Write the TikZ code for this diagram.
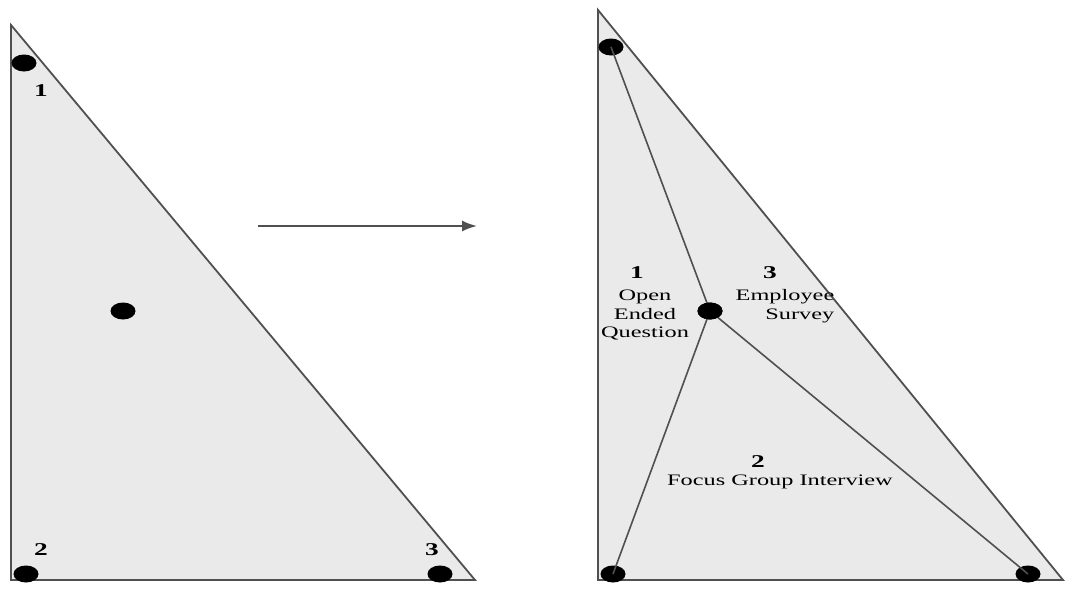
\documentclass[tikz,border=0pt]{standalone}
\usepackage{fontspec}
\setmainfont{Liberation Serif}[FakeStretch=1.52]
\usepackage{tikz}
\usetikzlibrary{shapes.geometric,arrows.meta,positioning,calc}
\definecolor{cFill}{HTML}{EAEAEA}
\definecolor{cEdge}{HTML}{505050}
\tikzset{
  x=1pt, y=-1pt,
  tri/.style  ={draw=cEdge, fill=cFill, line width=1.8pt, line join=miter},
  dot/.style  ={ellipse, fill=black, minimum width=25pt, minimum height=17pt, inner sep=0pt},
  num/.style  ={font=\fontsize{18}{18}\selectfont\bfseries, inner sep=0pt},
  lbl/.style  ={font=\fontsize{16}{18.5}\selectfont, inner sep=0pt},
  spoke/.style={draw=cEdge, line width=1.6pt},
  fl/.style   ={-{Latex[length=15pt,width=11pt]}, draw=cEdge, line width=1.8pt},
}
\begin{document}
\begin{tikzpicture}
  \useasboundingbox (0,0) rectangle (1066,592);
  % left triangle
  \coordinate (lt) at (11,25);
  \coordinate (lb) at (11,580);
  \coordinate (lr) at (475,580);
  \draw[tri] (lt) -- (lb) -- (lr) -- cycle;
  \node[dot] (la) at (24,63) {};
  \node[dot] (lm) at (123,311) {};
  \node[dot] (lc) at (26,574) {};
  \node[dot] (ld) at (440,574) {};
  \node[num] (ln1) at (41,91) {1};
  \node[num] (ln2) at (41,550) {2};
  \node[num] (ln3) at (432,550) {3};

  % arrow
  \coordinate (as) at (258,226);
  \coordinate (ae) at (477,226);
  \draw[fl] (as) -- (ae);

  % right triangle
  \coordinate (rt) at (598,10);
  \coordinate (rb) at (598,580);
  \coordinate (rr) at (1063,580);
  \draw[tri] (rt) -- (rb) -- (rr) -- cycle;
  \node[dot] (ra) at (611,47) {};
  \node[dot] (rm) at (710,311) {};
  \node[dot] (rc) at (613,574) {};
  \node[dot] (rd) at (1028,574) {};
  \draw[spoke] (ra.center) -- (rm.center);
  \draw[spoke] (rm.center) -- (rc.center);
  \draw[spoke] (rm.center) -- (rd.center);
  \node[dot] at (rm) {};

  \node[num] (rn1) at (637,273) {1};
  \node[lbl,align=center] (rq) at (645,315) {Open\\Ended\\Question};
  \node[num] (rn3) at (770,273) {3};
  \node[lbl,align=right] (rs) at (785,306) {Employee\\Survey};
  \node[num] (rn2) at (758,462) {2};
  \node[lbl] (rf) at (780,482) {Focus Group Interview};
\end{tikzpicture}
\end{document}
